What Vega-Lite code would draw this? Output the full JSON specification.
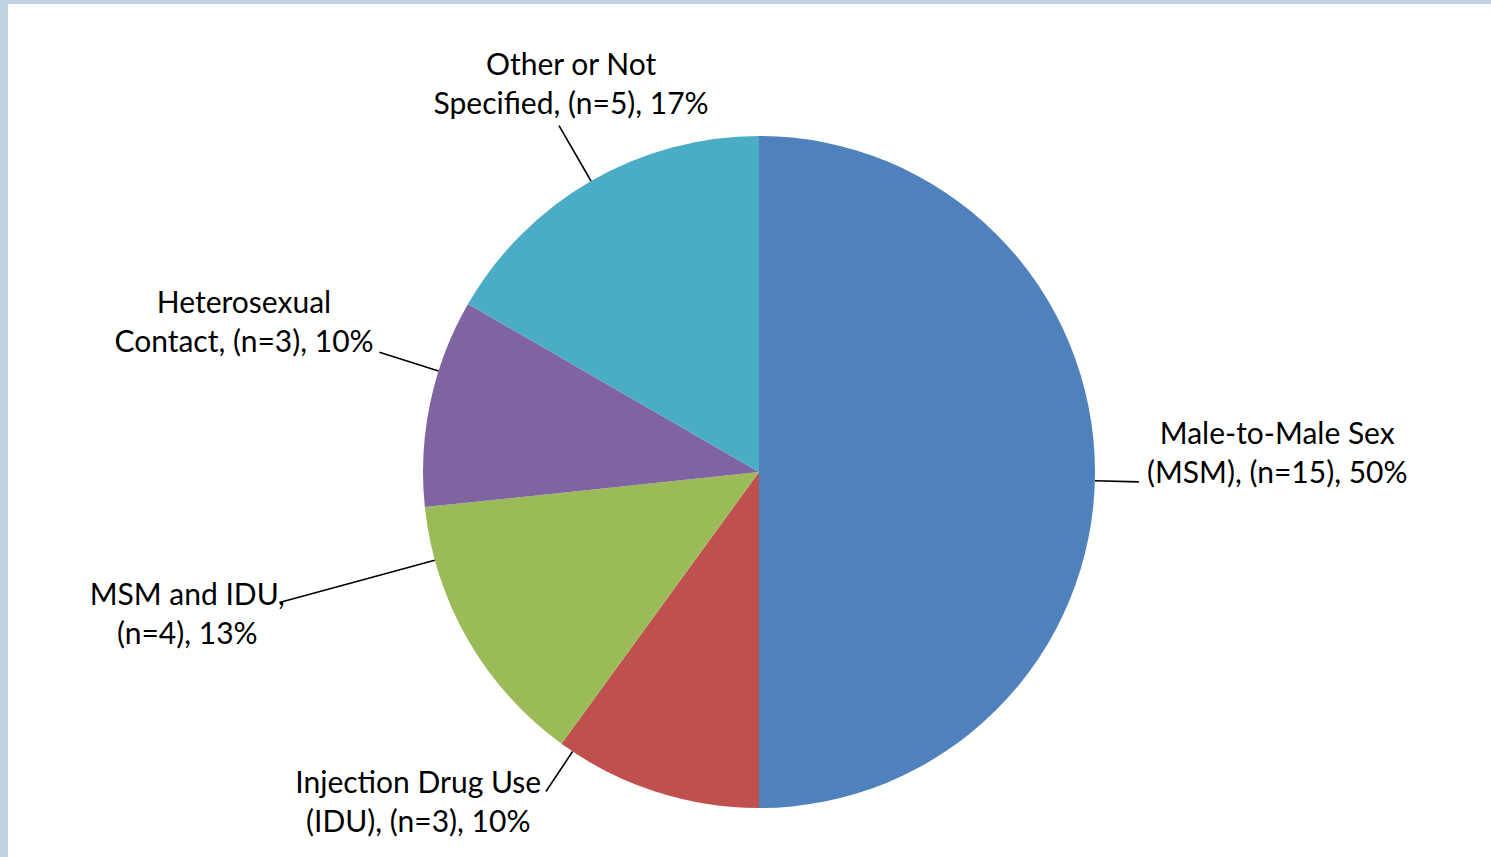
{
  "$schema": "https://vega.github.io/schema/vega-lite/v6.json",
  "width": 1502,
  "height": 936,
  "padding": {"left": 8, "top": 4, "right": -19, "bottom": -83},
  "autosize": {"type": "none"},
  "background": "#c0d3e4",
  "view": {"fill": "white", "stroke": null},
  "config": {
    "text": {"font": "Lato", "fontSize": 30, "lineHeight": 39, "color": "#000000", "align": "center", "baseline": "alphabetic"}
  },
  "data": {
    "values": [
      {"key": "msm", "order": 1, "n": 15, "pct": 50, "label": ["Male-to-Male Sex", "(MSM), (n=15), 50%"]},
      {"key": "idu", "order": 2, "n": 3, "pct": 10, "label": ["Injection Drug Use", "(IDU), (n=3), 10%"]},
      {"key": "msm_idu", "order": 3, "n": 4, "pct": 13, "label": ["MSM and IDU,", "(n=4), 13%"]},
      {"key": "hetero", "order": 4, "n": 3, "pct": 10, "label": ["Heterosexual", "Contact, (n=3), 10%"]},
      {"key": "other", "order": 5, "n": 5, "pct": 17, "label": ["Other or Not", "Specified, (n=5), 17%"]}
    ]
  },
  "transform": [
    {"stack": "n", "groupby": [], "sort": [{"field": "order", "order": "ascending"}], "as": ["n0", "n1"]}
  ],
  "encoding": {
    "theta": {"field": "n1", "type": "quantitative", "stack": null, "scale": {"zero": true}},
    "theta2": {"field": "n0"}
  },
  "layer": [
    {
      "mark": {"type": "arc", "outerRadius": 336},
      "encoding": {
        "color": {
          "field": "key",
          "type": "nominal",
          "scale": {
            "domain": ["msm", "idu", "msm_idu", "hetero", "other"],
            "range": ["#4f81bd", "#c0504d", "#9bbb59", "#8064a2", "#4bacc6"]
          },
          "legend": null
        }
      }
    },
    {
      "transform": [{"filter": "datum.key === 'msm'"}],
      "layer": [
        {"mark": {"type": "arc", "radius": 380, "radius2": 336, "padAngle": 3.1, "thetaOffset": 0.026, "theta2Offset": 0.026, "filled": false, "stroke": "#000000", "strokeWidth": 1.6}},
        {"mark": {"type": "text", "radius": 519, "thetaOffset": -1.6247}, "encoding": {"text": {"field": "label"}}}
      ]
    },
    {
      "transform": [{"filter": "datum.key === 'idu'"}],
      "layer": [
        {"mark": {"type": "arc", "radius": 384, "radius2": 336, "padAngle": 3.1, "thetaOffset": 0.274, "theta2Offset": 0.274, "filled": false, "stroke": "#000000", "strokeWidth": 1.6}},
        {"mark": {"type": "text", "radius": 468, "thetaOffset": 0.1873}, "encoding": {"text": {"field": "label"}}}
      ]
    },
    {
      "transform": [{"filter": "datum.key === 'msm_idu'"}],
      "layer": [
        {"mark": {"type": "arc", "radius": 497, "radius2": 336, "padAngle": 3.1, "thetaOffset": 0.258, "theta2Offset": 0.258, "filled": false, "stroke": "#000000", "strokeWidth": 1.6}},
        {"mark": {"type": "text", "radius": 587, "thetaOffset": -0.1237}, "encoding": {"text": {"field": "label"}}}
      ]
    },
    {
      "transform": [{"filter": "datum.key === 'hetero'"}],
      "layer": [
        {"mark": {"type": "arc", "radius": 398, "radius2": 336, "padAngle": 3.1, "thetaOffset": 0.096, "theta2Offset": 0.096, "filled": false, "stroke": "#000000", "strokeWidth": 1.6}},
        {"mark": {"type": "text", "radius": 539, "thetaOffset": -0.2241}, "encoding": {"text": {"field": "label"}}}
      ]
    },
    {
      "transform": [{"filter": "datum.key === 'other'"}],
      "layer": [
        {"mark": {"type": "arc", "radius": 400, "radius2": 336, "padAngle": 3.1, "filled": false, "stroke": "#000000", "strokeWidth": 1.6}},
        {"mark": {"type": "text", "radius": 439, "thetaOffset": -0.4423}, "encoding": {"text": {"field": "label"}}}
      ]
    }
  ]
}
